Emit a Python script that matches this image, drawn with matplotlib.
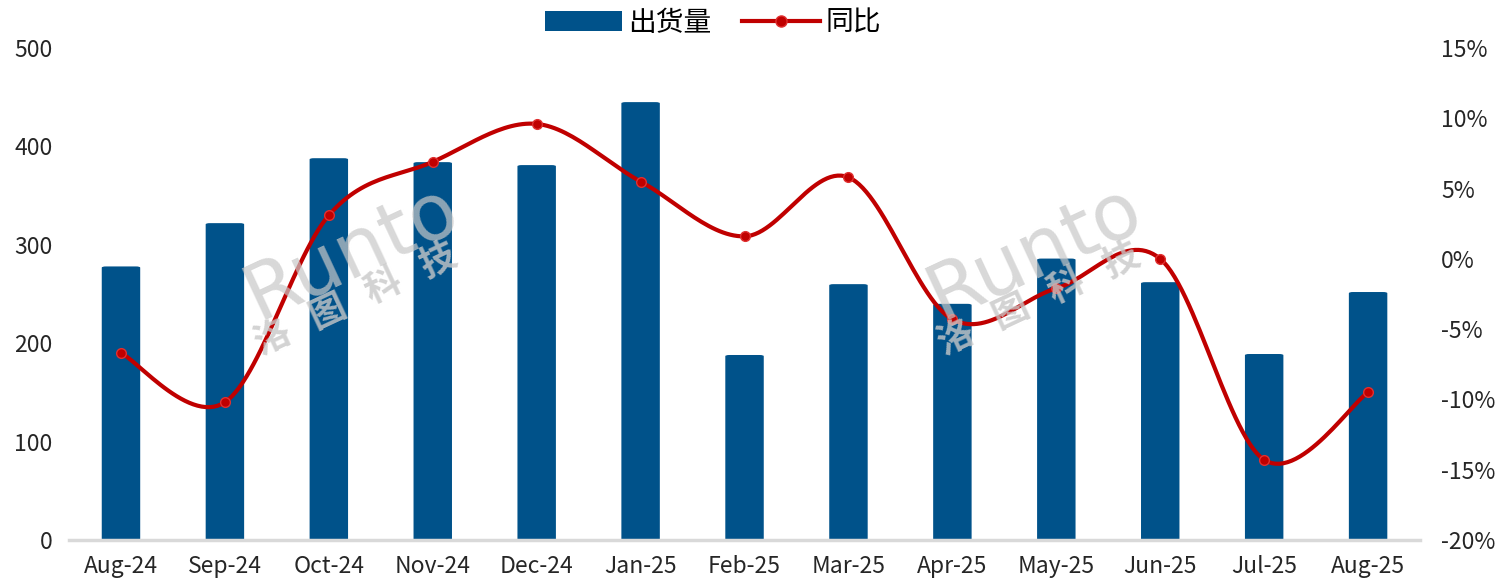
import numpy as np
import matplotlib.pyplot as plt
from matplotlib.patches import FancyBboxPatch
from matplotlib.lines import Line2D

plt.rcParams['font.family'] = ['Noto Sans CJK SC', 'DejaVu Sans']

months = ['Aug-24', 'Sep-24', 'Oct-24', 'Nov-24', 'Dec-24', 'Jan-25', 'Feb-25',
          'Mar-25', 'Apr-25', 'May-25', 'Jun-25', 'Jul-25', 'Aug-25']
shipments = [278, 322, 388, 384, 381, 445, 188, 260, 240, 286, 262, 189, 252]
yoy = [-6.7, -10.2, 3.1, 6.9, 9.6, 5.5, 1.6, 5.8, -4.3, -2.1, 0.0, -14.3, -9.5]

bar_color = '#00528A'
line_color = '#C00000'


def smooth(xs, ys, n=30):
    # Catmull-Rom, like Excel's smoothed line
    xs = np.asarray(xs, float)
    ys = np.asarray(ys, float)
    px = np.concatenate([[xs[0]], xs, [xs[-1]]])
    py = np.concatenate([[ys[0]], ys, [ys[-1]]])
    ox, oy = [], []
    for i in range(1, len(px) - 2):
        p0, p1, p2, p3 = (np.array([px[j], py[j]]) for j in range(i - 1, i + 3))
        c1 = p1 + (p2 - p0) / 6
        c2 = p2 - (p3 - p1) / 6
        t = np.linspace(0, 1, n)[:, None]
        pts = ((1 - t) ** 3) * p1 + 3 * ((1 - t) ** 2) * t * c1 + 3 * (1 - t) * t ** 2 * c2 + t ** 3 * p2
        ox.extend(pts[:, 0])
        oy.extend(pts[:, 1])
    return ox, oy


fig = plt.figure(figsize=(14.97, 5.79), dpi=100)
ax = fig.add_axes([0.0461, 0.0674, 0.9025, 0.8497])
ax2 = ax.twinx()

x = np.arange(len(months))
bw = 0.37
for xi, v in zip(x, shipments):
    ax.add_patch(FancyBboxPatch((xi - bw / 2, 0), bw, v,
                                boxstyle='round,pad=0,rounding_size=0.04',
                                mutation_aspect=30,
                                fc=bar_color, ec='none', zorder=2))

ax.set_xlim(-0.5, len(months) - 0.5)
ax.set_ylim(0, 500)
ax.set_yticks(range(0, 501, 100))
ax.set_xticks(x)
ax.set_xticklabels(months)
for s in ['top', 'right', 'left']:
    ax.spines[s].set_visible(False)
ax.spines['bottom'].set_color('#D9D9D9')
ax.spines['bottom'].set_linewidth(2.5)
ax.tick_params(axis='both', length=0, labelsize=16.5, colors='#262626')
ax.tick_params(axis='y', pad=12)
ax.tick_params(axis='x', pad=11)

sx, sy = smooth(x, yoy)
ax2.plot(sx, sy, color=line_color, lw=3, zorder=3)
ax2.plot(x, yoy, 'o', ms=7, mfc=line_color, mec='#E03030', mew=1, zorder=4)
ax2.set_ylim(-20, 15)
ax2.set_yticks(range(-20, 16, 5))
ax2.set_yticklabels([f'{v}%' for v in range(-20, 16, 5)])
for s in ax2.spines.values():
    s.set_visible(False)
ax2.tick_params(axis='y', length=0, labelsize=16.5, colors='#262626', pad=15)

# watermarks
for cx in [352, 1035]:
    fig.text(cx / 1497, 1 - 252 / 579, 'Runto', fontsize=56, color='#C8C8C8', alpha=0.7,
             rotation=25, rotation_mode='anchor', ha='center', va='center', zorder=10,
             family='DejaVu Sans')
    fig.text((cx + 4) / 1497, 1 - 300 / 579, '洛   图   科   技', fontsize=26, color='#C8C8C8',
             alpha=0.8, rotation=25, rotation_mode='anchor', ha='center', va='center',
             zorder=10, fontweight='bold')

handles = [
    FancyBboxPatch((0, 0), 1, 1, boxstyle='round,pad=0,rounding_size=0.2', fc=bar_color, ec='none'),
    Line2D([], [], color=line_color, lw=3, marker='o', ms=8, mfc=line_color, mec='#E03030'),
]
fig.legend(handles, ['出货量', '同比'], loc='upper center', bbox_to_anchor=(0.476, 1.03),
           ncol=2, frameon=False, fontsize=20, handlelength=2.8, handleheight=0.75,
           columnspacing=1.1, handletextpad=0.2)

fig.savefig('out.png', dpi=100)
